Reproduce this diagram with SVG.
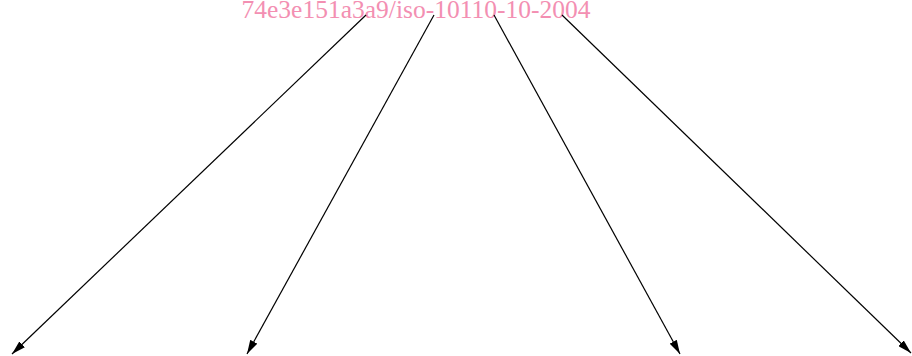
<svg xmlns="http://www.w3.org/2000/svg" width="912" height="356" viewBox="0 0 912 356">
<style>
.lbl{font-family:"Liberation Serif","Times New Roman",serif;font-size:25.5px;fill:#f38fb2}
.edge{stroke:#000;stroke-width:1.2;fill:none}
</style>
<defs>
<marker id="ah" viewBox="0 0 14 8" refX="14" refY="4" markerWidth="14" markerHeight="8" markerUnits="userSpaceOnUse" orient="auto">
<path d="M0,0 L14,4 L0,8 Z" fill="#000"/>
</marker>
</defs>
<g id="root">
<text class="lbl" x="416" y="18" text-anchor="middle">74e3e151a3a9/iso-10110-10-2004</text>
</g>
<g id="connectors">
<path class="edge" d="M366,15 L12,354" marker-end="url(#ah)"/>
<path class="edge" d="M434,15 L247,354" marker-end="url(#ah)"/>
<path class="edge" d="M494,15 L680,354" marker-end="url(#ah)"/>
<path class="edge" d="M562,15 L911,353" marker-end="url(#ah)"/>
</g>
</svg>
